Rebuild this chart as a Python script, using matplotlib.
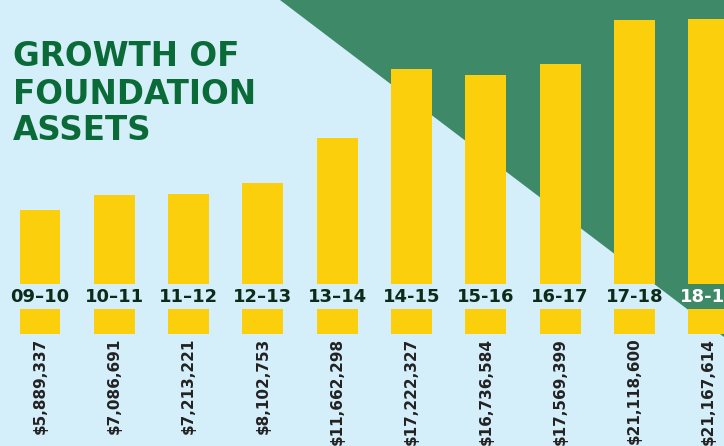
import matplotlib.pyplot as plt
from matplotlib.patches import Polygon

# fiscal years and foundation assets
years = ["09\u201310", "10\u201311", "11\u201312", "12\u201313", "13\u201314",
         "14-15", "15-16", "16-17", "17-18", "18-19"]
assets = [5889337, 7086691, 7213221, 8102753, 11662298,
          17222327, 16736584, 17569399, 21118600, 21167614]
title_lines = ["GROWTH OF", "FOUNDATION", "ASSETS"]

BG = "#d4eefa"
GREEN = "#3e8a68"
YELLOW = "#fccf0d"
TITLE = "#0b6b38"
DARK = "#0d2b18"

W, H = 724, 446
fig = plt.figure(figsize=(W / 100, H / 100), dpi=100)
fig.patch.set_facecolor(BG)
ax = fig.add_axes([0, 0, 1, 1])
ax.set_facecolor(BG)
ax.axis("off")

# scale: ~12.5 px per million, baseline at 284 px from the top
ppm = 12.5
ymin = -(H - 284) / ppm
ax.set_ylim(ymin, ymin + H / ppm)
xstep = 74.3
xmin = -40 / xstep
ax.set_xlim(xmin, xmin + W / xstep)

# green diagonal backdrop
tri = Polygon([(280 / W, 1), (1, 1), (1, 1 - 337 / H)], closed=True,
              transform=ax.transAxes, facecolor=GREEN, edgecolor="none", zorder=0)
ax.add_patch(tri)

x = list(range(len(years)))
vals = [v / 1e6 for v in assets]
ax.bar(x, vals, width=0.55, color=YELLOW, zorder=2)
# yellow strips under year labels
ax.bar(x, [2] * len(x), bottom=-4, width=0.55, color=YELLOW, zorder=2)

for i, (yr, v) in enumerate(zip(years, assets)):
    c = "white" if i == len(years) - 1 else DARK
    ax.text(i, -1.0, yr, ha="center", va="center", fontsize=13,
            fontweight="bold", color=c, zorder=3)
    ax.text(i, -4.3, "${:,}".format(v), ha="center", va="top", rotation=90,
            fontsize=11, fontweight="bold", color="#222222", zorder=3)

for line, base in zip(title_lines, [66, 104, 140]):
    ax.text(13 / W, 1 - base / H, line, transform=ax.transAxes, ha="left",
            va="baseline", fontsize=23.5, fontweight="bold", color=TITLE)

fig.savefig("out.png", dpi=100, facecolor=BG)
